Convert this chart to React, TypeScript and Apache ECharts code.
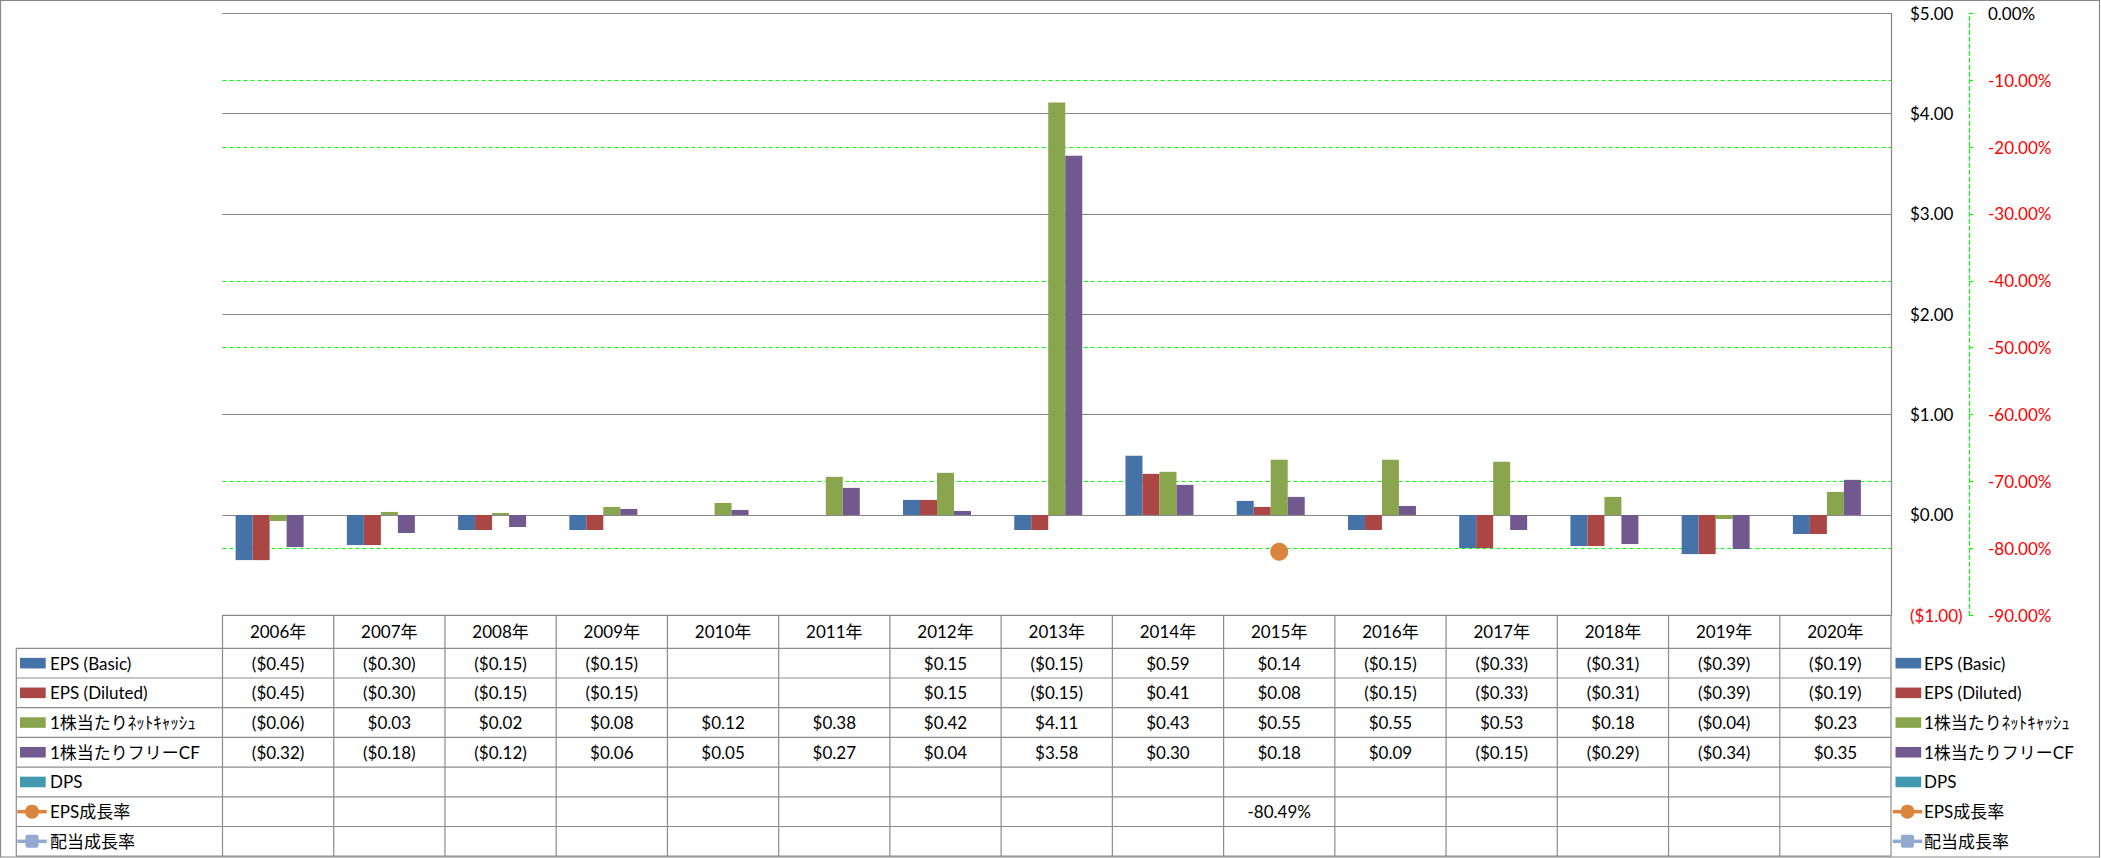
import React, { useEffect, useRef } from 'react';
import * as echarts from 'echarts';

const years = ['2006年', '2007年', '2008年', '2009年', '2010年', '2011年', '2012年', '2013年', '2014年', '2015年', '2016年', '2017年', '2018年', '2019年', '2020年'];
const epsBasic = [-0.45, -0.30, -0.15, -0.15, null, null, 0.15, -0.15, 0.59, 0.14, -0.15, -0.33, -0.31, -0.39, -0.19];
const epsDiluted = [-0.45, -0.30, -0.15, -0.15, null, null, 0.15, -0.15, 0.41, 0.08, -0.15, -0.33, -0.31, -0.39, -0.19];
const netCashPerShare = [-0.06, 0.03, 0.02, 0.08, 0.12, 0.38, 0.42, 4.11, 0.43, 0.55, 0.55, 0.53, 0.18, -0.04, 0.23];
const fcfPerShare = [-0.32, -0.18, -0.12, 0.06, 0.05, 0.27, 0.04, 3.58, 0.30, 0.18, 0.09, -0.15, -0.29, -0.34, 0.35];
const dps = [null, null, null, null, null, null, null, null, null, null, null, null, null, null, null];
const epsGrowth = [null, null, null, null, null, null, null, null, null, -80.49, null, null, null, null, null];
const divGrowth = [null, null, null, null, null, null, null, null, null, null, null, null, null, null, null];

const seriesNames = ['EPS (Basic)', 'EPS (Diluted)', '1株当たりﾈｯﾄｷｬｯｼｭ', '1株当たりフリーCF', 'DPS', 'EPS成長率', '配当成長率'];
const seriesColors = ['#4572A7', '#AA4643', '#89A54E', '#71588F', '#4198AF', '#DB843D', '#93A9CF'];
const seriesKinds = ['bar', 'bar', 'bar', 'bar', 'bar', 'line', 'line'];
const seriesData = [epsBasic, epsDiluted, netCashPerShare, fcfPerShare, dps, epsGrowth, divGrowth];
const seriesFormat = ['usd', 'usd', 'usd', 'usd', 'usd', 'pct', 'pct'];

const FONT = 'Lato, "Noto Sans CJK JP", sans-serif';
const FS = 17;

function fmtUsd(v: number | null) {
  if (v == null) return '';
  const s = '$' + Math.abs(v).toFixed(2);
  return v < 0 ? '(' + s + ')' : s;
}
function fmtPct(v: number | null) {
  if (v == null) return '';
  return v.toFixed(2) + '%';
}

const W = 2101;
const H = 858;
const PLOT_L = 222.5;
const PLOT_R = 1891;
const PLOT_T = 13.3;
const PLOT_B = 615.3;
const HEAD_B = 648.3;
const ROW_H = 29.7;
const TABLE_L = 16.3;
const GRID_GRAY = '#868686';
const TABLE_GRAY = '#8c8c8c';

function buildGraphic() {
  const els: any[] = [];
  const colW = (PLOT_R - PLOT_L) / years.length;
  const tableBottom = HEAD_B + ROW_H * seriesNames.length;
  els.push({
    type: 'rect', silent: true,
    shape: { x: 0.5, y: 0.5, width: W - 2, height: H - 1.5 },
    style: { fill: 'none', stroke: GRID_GRAY, lineWidth: 1.2 },
  });
  // horizontal table lines
  for (let k = 0; k <= seriesNames.length; k++) {
    const y = HEAD_B + k * ROW_H;
    els.push({ type: 'line', silent: true, shape: { x1: TABLE_L, y1: y, x2: PLOT_R, y2: y }, style: { stroke: TABLE_GRAY, lineWidth: 1.2 } });
  }
  els.push({ type: 'line', silent: true, shape: { x1: PLOT_L, y1: PLOT_B, x2: PLOT_R, y2: PLOT_B }, style: { stroke: TABLE_GRAY, lineWidth: 1.2 } });
  // vertical lines
  for (let i = 0; i <= years.length; i++) {
    const x = PLOT_L + i * colW;
    els.push({ type: 'line', silent: true, shape: { x1: x, y1: PLOT_B, x2: x, y2: tableBottom }, style: { stroke: TABLE_GRAY, lineWidth: 1.2 } });
  }
  els.push({ type: 'line', silent: true, shape: { x1: TABLE_L, y1: HEAD_B, x2: TABLE_L, y2: tableBottom }, style: { stroke: TABLE_GRAY, lineWidth: 1.2 } });
  // header
  years.forEach((yr, i) => {
    els.push({
      type: 'text', silent: true,
      style: { text: yr, x: PLOT_L + (i + 0.5) * colW, y: (PLOT_B + HEAD_B) / 2, align: 'center', verticalAlign: 'middle', fontSize: FS, fontFamily: FONT, fill: '#000' },
    });
  });
  // rows
  seriesNames.forEach((name, k) => {
    const cy = HEAD_B + (k + 0.5) * ROW_H;
    const color = seriesColors[k];
    [{ kx: 20, tx: 50 }, { kx: 1895.5, tx: 1924 }].forEach(({ kx, tx }) => {
      if (seriesKinds[k] === 'bar') {
        els.push({ type: 'rect', silent: true, shape: { x: kx, y: cy - 5.3, width: 25.7, height: 10.6 }, style: { fill: color } });
      } else {
        els.push({ type: 'line', silent: true, shape: { x1: kx - 2.7, y1: cy, x2: kx + 26.7, y2: cy }, style: { stroke: color, lineWidth: 3.5 } });
        if (k === 5) {
          els.push({ type: 'circle', silent: true, shape: { cx: kx + 12, cy, r: 7 }, style: { fill: color } });
        } else {
          els.push({ type: 'rect', silent: true, shape: { x: kx + 5.5, y: cy - 6.5, width: 13, height: 13, r: 2 }, style: { fill: color } });
        }
      }
      els.push({
        type: 'text', silent: true,
        style: { text: name, x: tx, y: cy, align: 'left', verticalAlign: 'middle', fontSize: FS, fontFamily: FONT, fill: '#000' },
      });
    });
    const data = seriesData[k];
    data.forEach((v, i) => {
      const txt = seriesFormat[k] === 'usd' ? fmtUsd(v) : fmtPct(v);
      if (!txt) return;
      els.push({
        type: 'text', silent: true,
        style: { text: txt, x: PLOT_L + (i + 0.5) * colW, y: cy, align: 'center', verticalAlign: 'middle', fontSize: FS, fontFamily: FONT, fill: '#000' },
      });
    });
  });
  return els;
}

export default function App() {
  const ref = useRef<HTMLDivElement>(null);
  useEffect(() => {
    if (!ref.current) return;
    const chart = echarts.init(ref.current, null, { renderer: 'svg' });
    const series: any[] = seriesNames.map((name, k) => {
      if (seriesKinds[k] === 'bar') {
        return {
          name, type: 'bar', data: seriesData[k], yAxisIndex: 0,
          barWidth: 17, barGap: '0%',
          itemStyle: { color: seriesColors[k] },
          z: 3,
        };
      }
      return {
        name, type: 'line', data: seriesData[k], yAxisIndex: 1,
        symbol: k === 5 ? 'circle' : 'rect', symbolSize: 18, showSymbol: true,
        connectNulls: false,
        lineStyle: { color: seriesColors[k], width: 2.5 },
        itemStyle: { color: seriesColors[k] },
        z: 4,
      };
    });
    chart.setOption({
      animation: false,
      backgroundColor: '#fff',
      grid: { left: PLOT_L, right: W - PLOT_R, top: PLOT_T, bottom: H - PLOT_B, containLabel: false },
      xAxis: {
        type: 'category', data: years,
        axisLine: { show: false }, axisTick: { show: false }, axisLabel: { show: false }, splitLine: { show: false },
      },
      yAxis: [
        {
          type: 'value', position: 'right', min: -1, max: 5, interval: 1, z: 2,
          axisLine: { show: true, lineStyle: { color: GRID_GRAY, width: 1.2 } },
          axisTick: { show: false },
          axisLabel: {
            margin: 19,
            formatter: (v: number) => (v < 0 ? '{r|' + fmtUsd(v) + '}' : '{k|' + fmtUsd(v) + '}'),
            rich: {
              r: { color: '#FF0000', fontSize: FS, fontFamily: FONT },
              k: { color: '#000000', fontSize: FS, fontFamily: FONT },
            },
          },
          splitLine: { show: true, lineStyle: { color: GRID_GRAY, width: 1.2 } },
        },
        {
          type: 'value', position: 'right', offset: 78, min: -90, max: 0, interval: 10, z: 1,
          axisLine: { show: true, lineStyle: { color: '#00FF00', width: 1.2, type: [4, 3] } },
          axisTick: { show: true, inside: false, length: 4, lineStyle: { color: '#00FF00', width: 1.2 } },
          axisLabel: {
            margin: 19,
            formatter: (v: number) => (v < 0 ? '{r|' + fmtPct(v) + '}' : '{k|' + fmtPct(0) + '}'),
            rich: {
              r: { color: '#FF0000', fontSize: FS, fontFamily: FONT },
              k: { color: '#000000', fontSize: FS, fontFamily: FONT },
            },
          },
          splitLine: { show: true, lineStyle: { color: '#00FF00', width: 1.2, type: [4, 3] } },
        },
      ],
      series,
      graphic: { elements: buildGraphic() },
    });
    return () => chart.dispose();
  }, []);
  return <div ref={ref} style={{ position: 'absolute', left: 0, top: 0, width: W, height: H }} />;
}
